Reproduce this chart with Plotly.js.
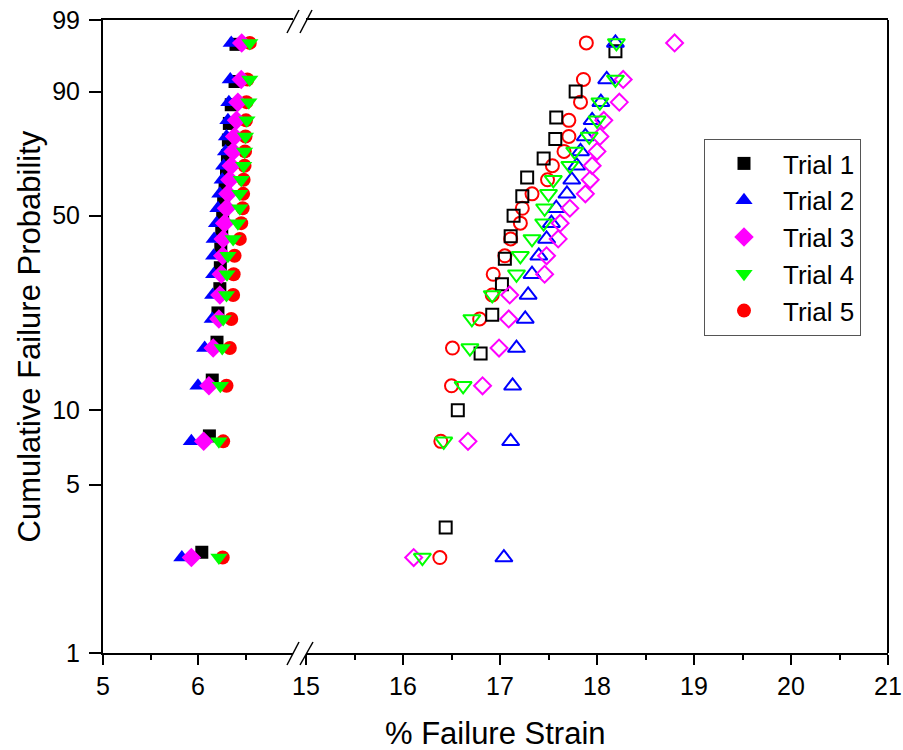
<!DOCTYPE html>
<html><head><meta charset="utf-8">
<script src="https://cdn.plot.ly/plotly-3.0.1.min.js"></script>
<style>html,body{margin:0;padding:0;background:#fff}#chart{width:903px;height:750px}</style>
</head><body><div id="chart"></div>
<script>
const trialNames = ['Trial 1','Trial 2','Trial 3','Trial 4','Trial 5'];
const trialColors = ['#000000','#0000FF','#FF00FF','#00FF00','#FF0000'];
const trialSymbols = ['square','triangle-up','diamond','triangle-down','circle'];

// cumulative failure probability (%) plotting positions
const prob20 = [2.5,7.5,12.5,17.5,22.5,27.5,32.5,37.5,42.5,47.5,52.5,57.5,62.5,67.5,72.5,77.5,82.5,87.5,92.5,97.5];
const prob19 = [2.63,7.89,13.16,18.42,23.68,28.95,34.21,39.47,44.74,50,55.26,60.53,65.79,71.05,76.32,81.58,86.84,92.11,97.37];
const prob15 = [3.33,10,16.67,23.33,30,36.67,43.33,50,56.67,63.33,70,76.67,83.33,90,96.67];

// % failure strain, low group (filled symbols)
const low1 = [6.04,6.12,6.15,6.20,6.21,6.23,6.235,6.24,6.25,6.26,6.27,6.285,6.30,6.31,6.32,6.33,6.35,6.39,6.40];
const low2 = [5.83,5.93,6.00,6.07,6.15,6.155,6.165,6.165,6.17,6.195,6.21,6.23,6.255,6.27,6.29,6.30,6.315,6.325,6.34,6.35];
const low3 = [5.93,6.06,6.115,6.16,6.22,6.23,6.245,6.26,6.265,6.28,6.30,6.315,6.335,6.35,6.37,6.385,6.405,6.42,6.455,6.46];
const low4 = [6.22,6.22,6.235,6.255,6.265,6.30,6.305,6.315,6.37,6.42,6.44,6.44,6.455,6.48,6.49,6.50,6.515,6.535,6.545,6.545];
const low5 = [6.26,6.265,6.30,6.335,6.35,6.37,6.375,6.385,6.44,6.455,6.47,6.475,6.48,6.49,6.495,6.50,6.505,6.51,6.52,6.545];

// % failure strain, high group (open symbols)
const high1 = [16.44,16.565,16.80,16.92,17.02,17.05,17.11,17.14,17.23,17.28,17.45,17.57,17.58,17.78,18.19];
const high2 = [17.04,17.11,17.13,17.17,17.26,17.29,17.33,17.40,17.48,17.53,17.58,17.69,17.74,17.79,17.83,17.88,17.95,18.04,18.10,18.19];
const high3 = [16.11,16.67,16.82,16.99,17.09,17.10,17.46,17.48,17.60,17.62,17.72,17.88,17.93,17.95,18.00,18.03,18.07,18.23,18.27,18.80];
const high4 = [16.20,16.42,16.62,16.69,16.71,16.92,17.17,17.21,17.33,17.45,17.46,17.50,17.55,17.72,17.77,17.92,18.00,18.03,18.19,18.20];
const high5 = [16.38,16.39,16.50,16.51,16.79,16.92,16.93,17.05,17.11,17.21,17.23,17.33,17.49,17.54,17.66,17.71,17.71,17.83,17.86,17.89];

const yTickLabels = [1,5,10,50,90,99];
const xTicksLow = [5,6];
const xMinorLow = [5.5,6.5];
const xTicksHigh = [15,16,17,18,19,20,21];
const xMinorHigh = [15.5,16.5,17.5,18.5,19.5,20.5];

// Weibull probability scale
const wb = p => Math.log(-Math.log(1 - p / 100));

const lowX = [low1, low2, low3, low4, low5];
const highX = [high1, high2, high3, high4, high5];
const lowP = [prob19, prob20, prob20, prob20, prob20];
const highP = [prob15, prob20, prob20, prob20, prob20];
const lowSize = [13, 15, 15, 15, 14];
const highSize = [12, 15, 13, 15, 13];
const drawOrder = [4, 0, 1, 2, 3];

const FONT = 'Liberation Sans, Arial, sans-serif';
const traces = [];
drawOrder.forEach(i => {
  traces.push({
    type: 'scatter', mode: 'markers', name: trialNames[i], legendrank: i + 1,
    x: lowX[i], y: lowP[i].map(wb), xaxis: 'x', yaxis: 'y',
    marker: {symbol: trialSymbols[i], color: trialColors[i], size: lowSize[i], line: {width: 0}},
    hoverinfo: 'skip'
  });
});
drawOrder.forEach(i => {
  traces.push({
    type: 'scatter', mode: 'markers', name: trialNames[i], showlegend: false,
    x: highX[i], y: highP[i].map(wb), xaxis: 'x2', yaxis: 'y',
    marker: {symbol: trialSymbols[i] + '-open', color: trialColors[i], size: highSize[i], line: {width: 2, color: trialColors[i]}},
    hoverinfo: 'skip'
  });
});

const axCommon = {
  showline: true, linewidth: 2, linecolor: '#000', mirror: true,
  showgrid: false, zeroline: false,
  ticks: 'outside', ticklen: 10, tickwidth: 2, tickcolor: '#000',
  tickfont: {family: FONT, size: 25, color: '#000'}
};

const L = 103, R = 888, T = 20, B = 653;
const px = x => (x - L) / (R - L);
const py = y => (B - y) / (B - T);
const seg = (x0, y0, x1, y1) => ({type: 'line', xref: 'paper', yref: 'paper',
  x0: px(x0), y0: py(y0), x1: px(x1), y1: py(y1), line: {color: '#000', width: 1.5}});

const layout = {
  width: 903, height: 750,
  margin: {l: L, r: 903 - R, t: T, b: 750 - B},
  paper_bgcolor: '#fff', plot_bgcolor: '#fff',
  showlegend: true,
  font: {family: FONT, color: '#000'},
  xaxis: Object.assign({}, axCommon, {
    domain: [0, px(293)], range: [5, 7], tickvals: xTicksLow,
    minor: {tickvals: xMinorLow, ticks: 'outside', ticklen: 5, tickwidth: 2, tickcolor: '#000', showgrid: false}
  }),
  xaxis2: Object.assign({}, axCommon, {
    domain: [px(306), 1], range: [15, 21], tickvals: xTicksHigh, anchor: 'y',
    minor: {tickvals: xMinorHigh, ticks: 'outside', ticklen: 5, tickwidth: 2, tickcolor: '#000', showgrid: false}
  }),
  yaxis: Object.assign({}, axCommon, {
    range: [wb(1), wb(99)], tickvals: yTickLabels.map(wb), ticktext: yTickLabels.map(String),
    ticklen: 12, mirror: false, anchor: 'x', ticklabelstandoff: 4
  }),
  legend: {
    x: px(704), y: py(139), xanchor: 'left', yanchor: 'top',
    bordercolor: '#555', borderwidth: 1, bgcolor: '#fff',
    font: {family: FONT, size: 26, color: '#000'}, itemwidth: 68, traceorder: 'normal'
  },
  annotations: [
    {text: '% Failure Strain', xref: 'paper', yref: 'paper', x: 0.5, y: py(734),
     xanchor: 'center', yanchor: 'middle', showarrow: false, font: {family: FONT, size: 31, color: '#000'}},
    {text: 'Cumulative Failure Probability', xref: 'paper', yref: 'paper', x: px(29), y: 0.5,
     xanchor: 'center', yanchor: 'middle', textangle: -90, showarrow: false, font: {family: FONT, size: 31, color: '#000'}}
  ],
  shapes: [
    {type: 'line', xref: 'paper', yref: 'paper', x0: 1, x1: 1, y0: 0, y1: 1, line: {color: '#000', width: 2}},
    seg(287, 33, 299, 10), seg(300, 33, 312, 10),
    seg(287, 665, 299, 642), seg(300, 665, 313, 642)
  ]
};

Plotly.newPlot('chart', traces, layout, {displayModeBar: false, staticPlot: true});
</script>
</body></html>
